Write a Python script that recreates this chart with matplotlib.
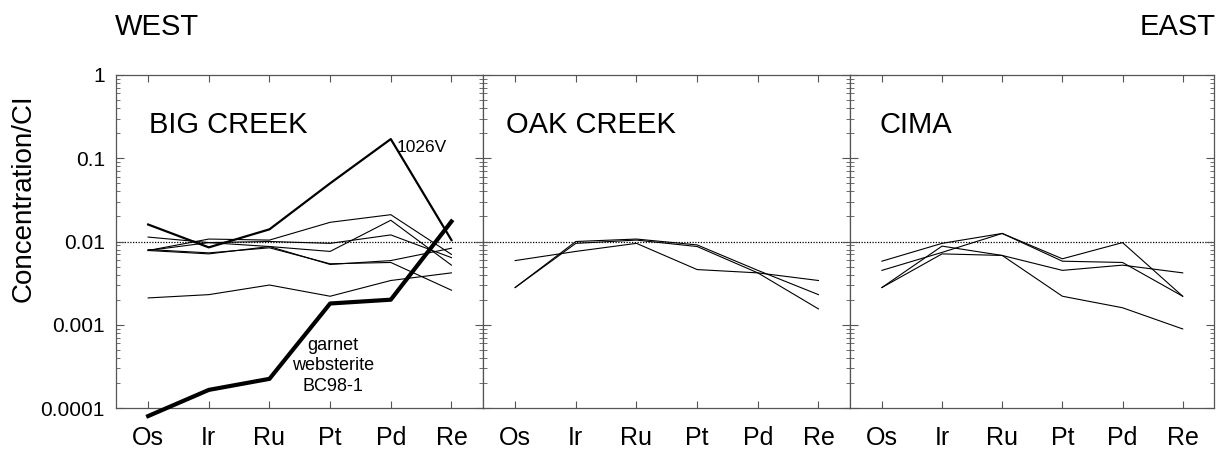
import numpy as np
import matplotlib.pyplot as plt
from matplotlib.ticker import LogLocator, NullFormatter, FixedLocator

plt.rcParams['font.family'] = ['Liberation Sans', 'DejaVu Sans']

elements = ['Os', 'Ir', 'Ru', 'Pt', 'Pd', 'Re']

# Big Creek
bc_1026v  = [0.016, 0.0085, 0.014, 0.05, 0.17, 0.0104]
bc_garnet = [0.00008, 0.000165, 0.000224, 0.0018, 0.002, 0.0174]
bc_a = [0.0078, 0.0107, 0.0104, 0.017, 0.021, 0.0070]
bc_b = [0.0113, 0.0097, 0.0087, 0.0076, 0.018, 0.0052]
bc_c = [0.0078, 0.0097, 0.0100, 0.0095, 0.012, 0.0064]
bc_d = [0.0078, 0.0071, 0.0087, 0.0053, 0.0059, 0.0083]
bc_e = [0.0080, 0.0073, 0.0084, 0.0054, 0.0056, 0.0026]
bc_low = [0.0021, 0.0023, 0.0030, 0.0022, 0.0034, 0.0042]

# Oak Creek
oc_a = [0.0059, 0.0076, 0.0095, 0.0046, 0.0042, 0.0034]
oc_b = [0.0028, 0.0100, 0.0107, 0.0091, 0.0045, 0.0023]
oc_c = [0.0028, 0.0095, 0.0104, 0.0087, 0.0042, 0.00155]

# Cima
ci_a = [0.0058, 0.0095, 0.0125, 0.0062, 0.0097, 0.0022]
ci_b = [0.0045, 0.0074, 0.0125, 0.0058, 0.0056, 0.0022]
ci_c = [0.0028, 0.0071, 0.0068, 0.0022, 0.0016, 0.00089]
ci_d = [0.0028, 0.0088, 0.0068, 0.0045, 0.0052, 0.0042]

x = np.arange(len(elements))

fig = plt.figure(figsize=(12.18, 4.58), dpi=100)
W, H = 1218, 458
top, bot = 75, 408
edges = [(116, 483), (483, 850), (850, 1214)]
axes = []
for (l, r) in edges:
    ax = fig.add_axes([l / W, 1 - bot / H, (r - l) / W, (bot - top) / H])
    axes.append(ax)

spine_col = '#555555'
for i, ax in enumerate(axes):
    ax.set_yscale('log')
    ax.set_ylim(1e-4, 1)
    ax.set_xlim(-0.53, 5.52)
    ax.set_xticks(x)
    ax.set_xticklabels(elements, fontsize=18)
    ax.yaxis.set_major_locator(FixedLocator([1e-4, 1e-3, 1e-2, 1e-1, 1]))
    ax.yaxis.set_minor_locator(LogLocator(base=10, subs=np.arange(2, 10)))
    ax.yaxis.set_minor_formatter(NullFormatter())
    ax.tick_params(axis='x', direction='in', top=True, bottom=True, length=5,
                   width=0.8, color=spine_col, pad=13)
    ax.tick_params(axis='y', which='major', direction='in', left=True, right=True,
                   length=6, width=0.8, color=spine_col)
    ax.tick_params(axis='y', which='minor', direction='in', left=True, right=True,
                   length=3, width=0.6, color=spine_col)
    for s in ax.spines.values():
        s.set_color(spine_col)
        s.set_linewidth(0.9)
    ax.axhline(0.01, color='black', lw=0.9, ls=(0, (1, 1.2)), zorder=1)
    if i == 0:
        ax.set_yticklabels(['0.0001', '0.001', '0.01', '0.1', '1'], fontsize=15)
        ax.tick_params(axis='y', pad=8)
    else:
        ax.set_yticklabels([])

ax1, ax2, ax3 = axes

for ys in [bc_a, bc_b, bc_c, bc_d, bc_e, bc_low]:
    ax1.plot(x, ys, color='black', lw=0.8)
ax1.plot(x, bc_1026v, color='black', lw=1.6)
ax1.plot(x, bc_garnet, color='black', lw=3.0, clip_on=False, zorder=5)
ax1.text(0.09, 0.85, 'BIG CREEK', transform=ax1.transAxes, fontsize=21, va='center')
ax1.text(4.1, 0.135, '1026V', fontsize=12.5, va='center')
ax1.text(3.05, 0.00032, 'garnet\nwebsterite\nBC98-1', fontsize=13,
         ha='center', va='center', linespacing=1.3)

for ys in [oc_a, oc_b, oc_c]:
    ax2.plot(x, ys, color='black', lw=0.8)
ax2.text(0.064, 0.85, 'OAK CREEK', transform=ax2.transAxes, fontsize=21, va='center')

for ys in [ci_a, ci_b, ci_c, ci_d]:
    ax3.plot(x, ys, color='black', lw=0.8)
ax3.text(0.08, 0.85, 'CIMA', transform=ax3.transAxes, fontsize=21, va='center')

fig.text(115 / W, 1 - 27 / H, 'WEST', fontsize=21, va='center', ha='left')
fig.text(1216 / W, 1 - 27 / H, 'EAST', fontsize=21, va='center', ha='right')
fig.text(24 / W, 1 - 198 / H, 'Concentration/CI', fontsize=20, rotation=90,
         va='center', ha='center')

fig.savefig('out.png', dpi=100)
